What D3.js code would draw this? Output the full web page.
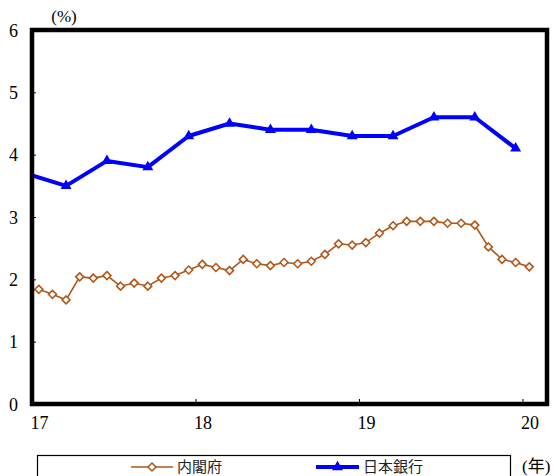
<!DOCTYPE html>
<html>
<head>
<meta charset="utf-8">
<script src="https://cdn.jsdelivr.net/npm/d3@7"></script>
<style>
  html, body { margin: 0; padding: 0; background: #fff; }
  svg { display: block; }
  .serif { font-family: "Liberation Serif", "Noto Sans CJK JP", serif; }
  .cjk { font-family: "Noto Sans CJK JP", "Noto Sans", sans-serif; }
</style>
</head>
<body>
<svg id="chart" width="554" height="476"></svg>
<script>
// 内閣府: monthly (Dec 2016 – Jan 2020)
const cabinetMonths = [
  "2016-12",
  "2017-01","2017-02","2017-03","2017-04","2017-05","2017-06",
  "2017-07","2017-08","2017-09","2017-10","2017-11","2017-12",
  "2018-01","2018-02","2018-03","2018-04","2018-05","2018-06",
  "2018-07","2018-08","2018-09","2018-10","2018-11","2018-12",
  "2019-01","2019-02","2019-03","2019-04","2019-05","2019-06",
  "2019-07","2019-08","2019-09","2019-10","2019-11","2019-12",
  "2020-01"
];
const cabinetValues = [
  1.80,
  1.84, 1.76, 1.67, 2.04, 2.02, 2.06,
  1.89, 1.94, 1.89, 2.02, 2.06, 2.15,
  2.24, 2.19, 2.14, 2.32, 2.25, 2.22,
  2.27, 2.25, 2.29, 2.40, 2.57, 2.55,
  2.59, 2.74, 2.86, 2.93, 2.93, 2.93,
  2.90, 2.90, 2.87, 2.52, 2.32, 2.27,
  2.20
];

// 日本銀行: quarterly (Mar / Jun / Sep / Dec)
const bojMonths = [
  "2016-12",
  "2017-03","2017-06","2017-09","2017-12",
  "2018-03","2018-06","2018-09","2018-12",
  "2019-03","2019-06","2019-09","2019-12"
];
const bojValues = [
  3.7,
  3.5, 3.9, 3.8, 4.3,
  4.5, 4.4, 4.4, 4.3,
  4.3, 4.6, 4.6, 4.1
];

const yTicks = [0, 1, 2, 3, 4, 5, 6];
const xTicks = [17, 18, 19, 20];
const xTickLabels = ["17", "18", "19", "20"];
const seriesNames = ["内閣府", "日本銀行"];

// month string -> fractional year (2-digit), plotted at mid-month
const toX = s => {
  const [yr, m] = s.split("-").map(Number);
  return (yr - 2000) + (m - 0.5) / 12;
};

const cabinet = cabinetMonths.map((m, i) => ({ x: toX(m), v: cabinetValues[i] }));
const boj = bojMonths.map((m, i) => ({ x: toX(m), v: bojValues[i] }));

const plotLeft = 32, plotRight = 547, plotTop = 30, plotBottom = 404;
const svg = d3.select("#chart");

const x = d3.scaleLinear().domain([17, 20.15]).range([plotLeft, plotRight]);
const y = d3.scaleLinear().domain([0, 6]).range([plotBottom, plotTop]);

const brown = "#B0581C";
const blue = "#0000FF";

svg.append("clipPath").attr("id", "plot-clip")
  .append("rect")
  .attr("x", plotLeft).attr("y", plotTop)
  .attr("width", plotRight - plotLeft).attr("height", plotBottom - plotTop);

// y axis: ticks point inward, labels on the left
const yAxis = d3.axisLeft(y).tickValues(yTicks).tickSize(-4).tickPadding(14)
  .tickFormat(d3.format("d"));
const gy = svg.append("g").attr("transform", `translate(${plotLeft},0)`).call(yAxis)
  .attr("font-family", null);
gy.select(".domain").remove();
gy.selectAll(".tick line").attr("stroke", "#000").attr("stroke-width", 1);
gy.selectAll(".tick text")
  .attr("class", "serif").style("font-size", "18px").attr("fill", "#000")
  .attr("dy", "0.35em");

// x axis: ticks point inward, labels below
const xAxis = d3.axisBottom(x).tickValues(xTicks).tickSize(-5).tickPadding(12)
  .tickFormat((d, i) => xTickLabels[i]);
const gx = svg.append("g").attr("transform", `translate(0,${plotBottom})`).call(xAxis)
  .attr("font-family", null);
gx.select(".domain").remove();
gx.selectAll(".tick line").attr("stroke", "#000").attr("stroke-width", 1);
gx.selectAll(".tick text")
  .attr("class", "serif").style("font-size", "18px").attr("fill", "#000")
  .attr("text-anchor", "start").attr("dx", "-2");

// plot data
const plot = svg.append("g").attr("clip-path", "url(#plot-clip)");

const line = d3.line().x(d => x(d.x)).y(d => y(d.v));

plot.append("path").datum(boj)
  .attr("fill", "none").attr("stroke", blue).attr("stroke-width", 4)
  .attr("stroke-linejoin", "round").attr("d", line);

plot.append("path").datum(cabinet)
  .attr("fill", "none").attr("stroke", brown).attr("stroke-width", 1.6)
  .attr("d", line);

const diamond = d3.symbol().type(d3.symbolDiamond2).size(40);
const triangle = d3.symbol().type(d3.symbolTriangle).size(52);

plot.selectAll(".cab-pt").data(cabinet).join("path")
  .attr("class", "cab-pt")
  .attr("transform", d => `translate(${x(d.x)},${y(d.v)})`)
  .attr("d", diamond)
  .attr("fill", "#fff").attr("stroke", brown).attr("stroke-width", 1.6);

plot.selectAll(".boj-pt").data(boj).join("path")
  .attr("class", "boj-pt")
  .attr("transform", d => `translate(${x(d.x)},${y(d.v)})`)
  .attr("d", triangle)
  .attr("fill", blue);

// frame
svg.append("rect")
  .attr("x", plotLeft).attr("y", plotTop)
  .attr("width", plotRight - plotLeft).attr("height", plotBottom - plotTop)
  .attr("fill", "none").attr("stroke", "#000").attr("stroke-width", 4.5);

// unit labels
svg.append("text").attr("x", 64).attr("y", 22)
  .attr("text-anchor", "middle").attr("class", "serif")
  .style("font-size", "17px").attr("fill", "#000")
  .text("(%)");

svg.append("text").attr("x", 522).attr("y", 472)
  .attr("class", "serif").style("font-size", "17px").attr("fill", "#000")
  .text("(年)");

// legend
const legend = svg.append("g");
legend.append("rect")
  .attr("x", 37.5).attr("y", 455.5).attr("width", 473).attr("height", 30)
  .attr("fill", "#fff").attr("stroke", "#000").attr("stroke-width", 1.2);

const ly = 467;
const items = [
  { name: seriesNames[0], x0: 131, x1: 173, tx: 177, color: brown, w: 1.6, sym: diamond, fill: "#fff" },
  { name: seriesNames[1], x0: 316, x1: 359, tx: 363, color: blue, w: 4, sym: triangle, fill: blue }
];
items.forEach(it => {
  legend.append("line")
    .attr("x1", it.x0).attr("x2", it.x1).attr("y1", ly).attr("y2", ly)
    .attr("stroke", it.color).attr("stroke-width", it.w);
  legend.append("path")
    .attr("transform", `translate(${(it.x0 + it.x1) / 2},${ly})`)
    .attr("d", it.sym)
    .attr("fill", it.fill).attr("stroke", it.fill === "#fff" ? it.color : "none")
    .attr("stroke-width", 1.6);
  legend.append("text")
    .attr("x", it.tx).attr("y", ly).attr("dy", "0.36em")
    .attr("class", "cjk").style("font-size", "15px").attr("fill", "#222")
    .text(it.name);
});
</script>
</body>
</html>
